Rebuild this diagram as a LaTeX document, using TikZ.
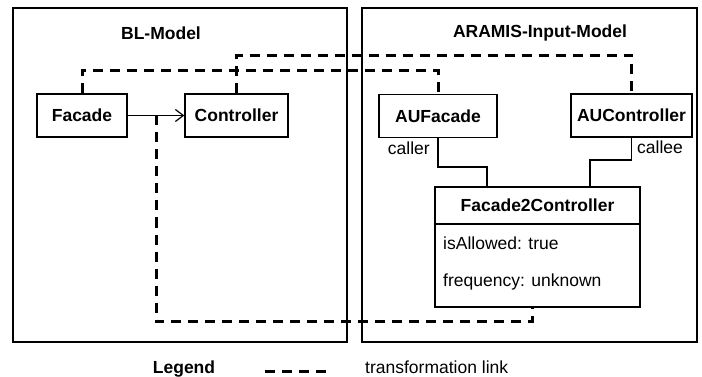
\documentclass[tikz,border=0pt]{standalone}
\usepackage{fontspec}
\setmainfont{Liberation Sans}
\usetikzlibrary{arrows.meta,calc}

\begin{document}
\begin{tikzpicture}[
  x=1pt,y=-1pt,
  font=\fontsize{17.5}{21}\selectfont,
  frame/.style={draw,line width=1.2pt,minimum width=334pt,minimum height=334pt,inner sep=0pt},
  cls/.style={draw,line width=1.3pt,minimum height=43pt,inner sep=0pt,font=\fontsize{17.5}{21}\selectfont\bfseries},
  title/.style={font=\fontsize{17.5}{21}\selectfont\bfseries},
  attr/.style={anchor=west,inner sep=0pt},
  assoc/.style={line width=1.2pt},
  nav/.style={assoc,-{Straight Barb[length=8pt,width=12pt]}},
  trafo/.style={line width=3pt,dash pattern=on 10pt off 7pt}
]
\useasboundingbox (0,0) rectangle (702,377);

\node[frame] (blframe) at (180,175) {};
\node[frame,minimum width=335pt] (aramisframe) at (529.5,175) {};
\node[title] (bltitle) at (161,33) {BL-Model};
\node[title] (aramistitle) at (540,33) {ARAMIS-Input-Model};

\node[cls,minimum width=90pt] (facade) at (82,115.5) {Facade};
\node[cls,minimum width=103pt] (controller) at (236.5,115.5) {Controller};
\node[cls,minimum width=118pt] (aufacade) at (438,116) {AUFacade};
\node[cls,minimum width=121pt] (aucontroller) at (631.5,115.5) {AUController};

\node[cls,minimum width=205pt,minimum height=37pt] (f2c) at (537.5,205.5) {Facade2Controller};
\node[draw,line width=1.3pt,minimum width=205pt,minimum height=83pt,inner sep=0pt] (attrs) at (537.5,265.5) {};
\node[attr] (allowed) at (443,243) {isAllowed: true};
\node[attr] (frequency) at (443,282) {frequency: unknown};

\node[anchor=east,inner sep=0pt] (caller) at (430,148) {caller};
\node[anchor=west,inner sep=0pt] (callee) at (637,147) {callee};

\draw[nav] (facade) -- (controller);
\coordinate (assocmid) at ($(facade.east)!0.5!(controller.west)$);

\coordinate (callerbend) at (487,167);
\coordinate (calleebend) at (590,160);
\draw[assoc] (aufacade.south) |- (callerbend) -- (callerbend |- f2c.north);
\draw[assoc] (aucontroller.south) |- (calleebend) -- (calleebend |- f2c.north);

\draw[trafo] (facade.north) -- ++(0,-23) -| (aufacade.north);
\draw[trafo] (controller.north) -- ++(0,-38) -| (aucontroller.north);
\draw[trafo] (assocmid) |- ($(attrs.south)+(-5.5,14)$) -- ($(attrs.south)+(-5.5,0)$);

\node[title,anchor=base] (legend) at (184,373) {Legend};
\coordinate (legstart) at (265,371);
\coordinate (legend2) at (329,371);
\draw[trafo] (legstart) -- (legend2);
\node[anchor=base west,inner sep=0pt] (legtext) at (365,373) {transformation link};
\end{tikzpicture}
\end{document}
